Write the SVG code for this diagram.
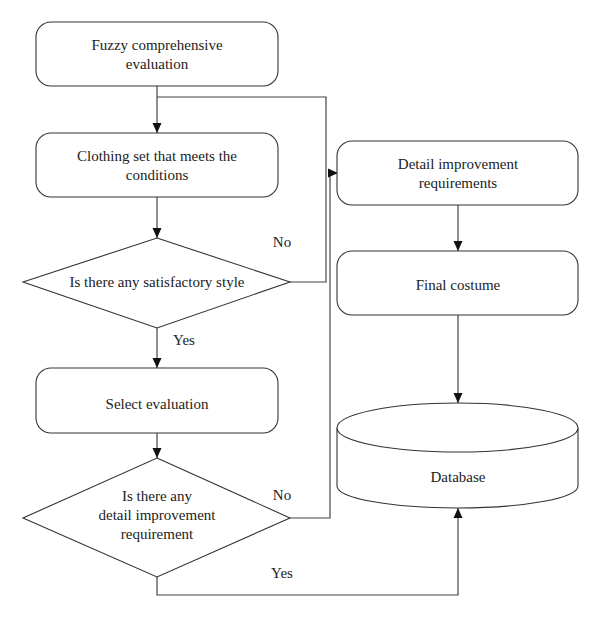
<svg xmlns="http://www.w3.org/2000/svg" width="600" height="617" viewBox="0 0 600 617">
<defs>
<marker id="arr" viewBox="0 0 10 10" refX="10" refY="5" markerWidth="10" markerHeight="10" markerUnits="userSpaceOnUse" orient="auto">
<path d="M0,0.5 L10,5 L0,9.5 Z" fill="#111"/>
</marker>
<style>
.box{fill:#fff;stroke:#333;stroke-width:1.1}
.ln{fill:none;stroke:#444;stroke-width:1.2}
</style>
</defs>
<rect width="600" height="617" fill="#fff"/>
<g font-family="Liberation Serif, Times New Roman, serif" font-size="15" fill="#222" text-anchor="middle">
<g id="connectors">
<path class="ln" d="M157,86 V133" marker-end="url(#arr)"/>
<path class="ln" d="M290,282 H326 V97 H157"/>
<path class="ln" d="M157,197 V238" marker-end="url(#arr)"/>
<path class="ln" d="M157,328 V368" marker-end="url(#arr)"/>
<path class="ln" d="M157,433 V458" marker-end="url(#arr)"/>
<path class="ln" d="M290,518 H330 V173 H338" marker-end="url(#arr)"/>
<path class="ln" d="M458,205 V251" marker-end="url(#arr)"/>
<path class="ln" d="M458,315 V403" marker-end="url(#arr)"/>
<path class="ln" d="M157,577 V595 H458 V508" marker-end="url(#arr)"/>
<text x="282" y="247">No</text>
<text x="184" y="345">Yes</text>
<text x="282" y="500">No</text>
<text x="282" y="578">Yes</text>
</g>
<g id="n1">
<rect class="box" x="36" y="22" width="242" height="64" rx="15"/>
<text x="157" y="50">Fuzzy comprehensive</text>
<text x="157" y="69">evaluation</text>
</g>
<g id="n2">
<rect class="box" x="36" y="133" width="242" height="64" rx="15"/>
<text x="157" y="161">Clothing set that meets the</text>
<text x="157" y="180">conditions</text>
</g>
<g id="d1">
<polygon class="box" points="157,238 290,282 157,328 23,282"/>
<text x="157" y="287">Is there any satisfactory style</text>
</g>
<g id="n5">
<rect class="box" x="36" y="368" width="242" height="65" rx="15"/>
<text x="157" y="409">Select evaluation</text>
</g>
<g id="d2">
<polygon class="box" points="157,458 290,518 157,577 23,518"/>
<text x="157" y="501">Is there any</text>
<text x="157" y="520">detail improvement</text>
<text x="157" y="539">requirement</text>
</g>
<g id="n3">
<rect class="box" x="337" y="141" width="241" height="64" rx="15"/>
<text x="458" y="169">Detail improvement</text>
<text x="458" y="188">requirements</text>
</g>
<g id="n4">
<rect class="box" x="337" y="251" width="241" height="64" rx="15"/>
<text x="458" y="290">Final costume</text>
</g>
<g id="db">
<path class="box" d="M337,428 V486 A120.5,22 0 0 0 578,486 V428 A120.5,25 0 0 0 337,428 Z"/>
<path class="box" fill="none" d="M337,428 A120.5,24 0 0 0 578,428"/>
<text x="458" y="482">Database</text>
</g>
</g>
</svg>
